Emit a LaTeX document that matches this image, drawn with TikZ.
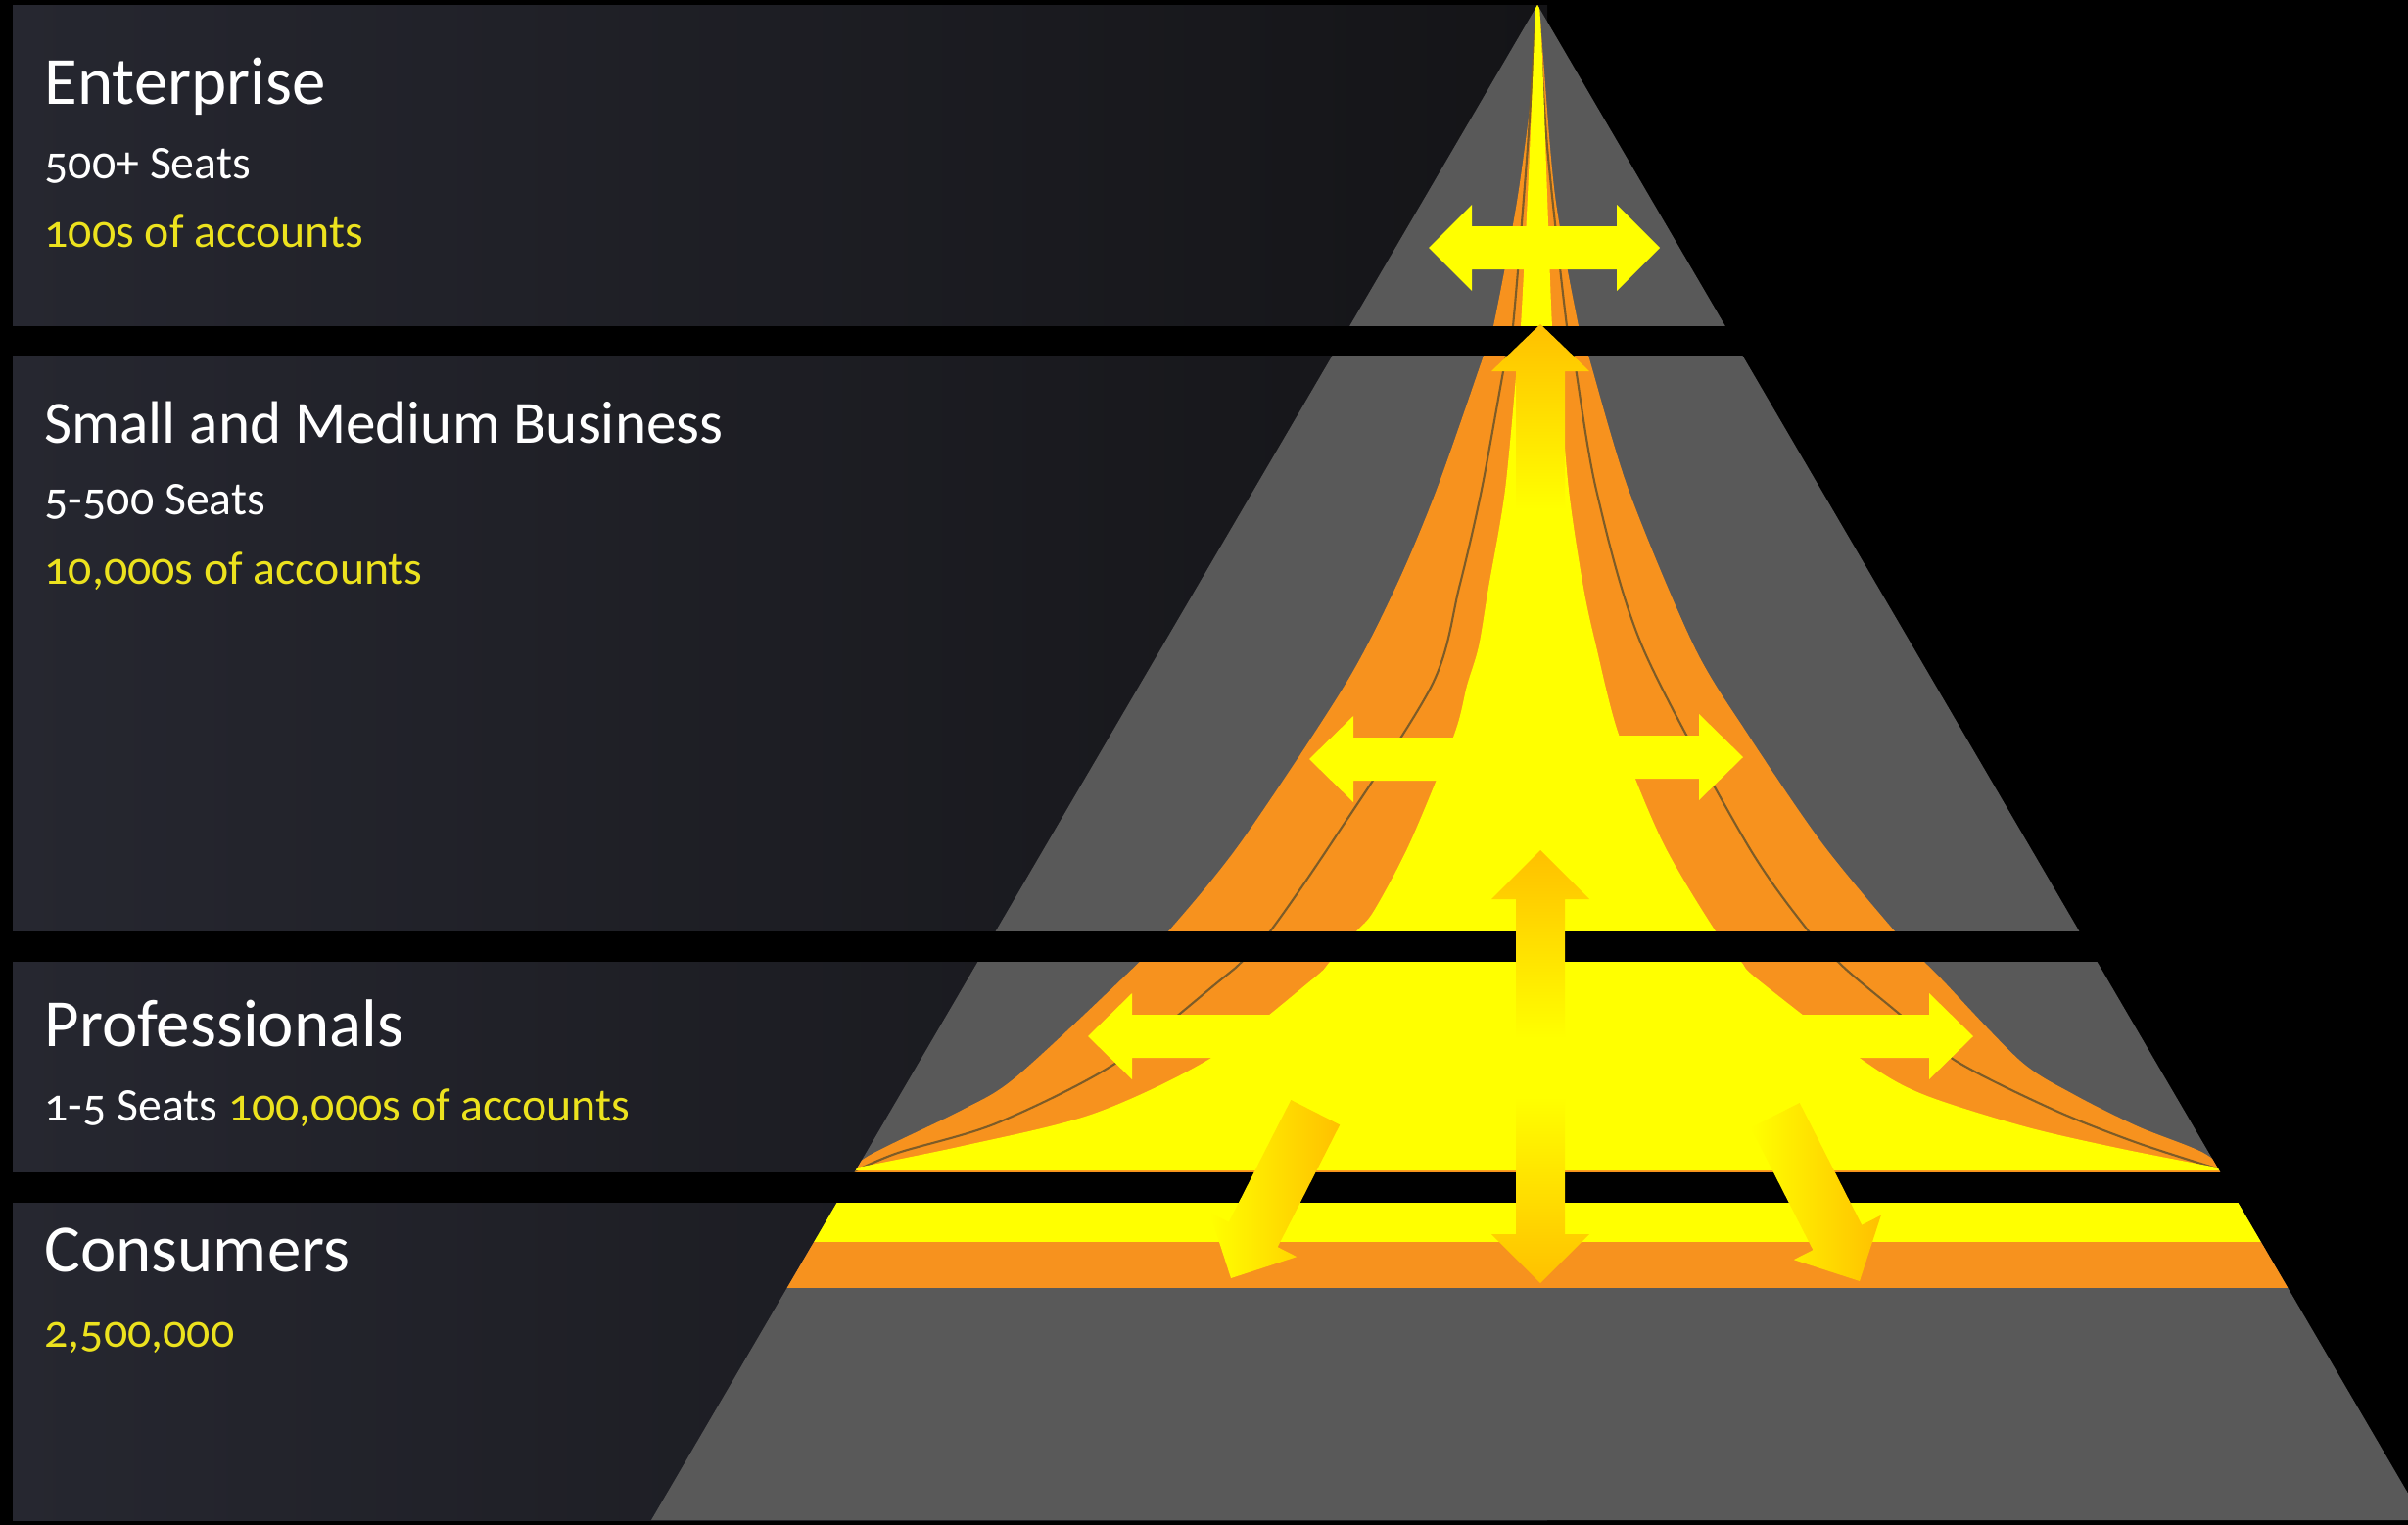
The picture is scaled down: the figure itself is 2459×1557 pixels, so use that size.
\documentclass[tikz,border=0pt]{standalone}
\usepackage{fontspec}
\setmainfont{Carlito}[Numbers=OldStyle]
\usetikzlibrary{calc}

\definecolor{panelL}{RGB}{38,39,48}
\definecolor{panelR}{RGB}{20,20,23}
\definecolor{pyrgray}{RGB}{89,89,89}
\definecolor{glowor}{RGB}{247,146,30}
\definecolor{glowye}{RGB}{255,255,0}
\definecolor{arrowgold}{RGB}{255,192,0}
\definecolor{textye}{RGB}{236,226,30}
\definecolor{seam}{RGB}{125,92,40}

% block arrow: [style]{tip}{direction}{length}{head length}{head half width}{shaft half width}
\newcommand{\blockarrow}[7][]{%
  \path[#1, shift={#2}, rotate=#3]
    (0,0) -- (-#5,#6) -- (-#5,#7) -- (-#4,#7) -- (-#4,-#7) -- (-#5,-#7) -- (-#5,-#6) -- cycle;
}

\begin{document}
\begin{tikzpicture}[x=0.1mm, y=-0.1mm,
  tiertitle/.style={anchor=base west, inner sep=0pt, text=white, font=\fontsize{19.6}{23}\selectfont},
  tierseats/.style={anchor=base west, inner sep=0pt, text=white, font=\fontsize{13.6}{16}\selectfont},
  tiercount/.style={tierseats, text=textye},
  panel/.style={left color=panelL, right color=panelR},
  gap/.style={fill=black},
  flat/.style={fill=glowye},
  golden/.style={shade, left color=glowye, right color=arrowgold}]

\useasboundingbox (0,0) rectangle (2459,1557);
\clip (0,0) rectangle (2459,1557);
\fill[black] (0,0) rectangle (2459,1557);

\coordinate (apex) at (1570,5);
\coordinate (baseL) at (665,1552);
\coordinate (baseR) at (2475,1552);

% tiers on the left
\shade[panel] (13,5) rectangle (1580,333);
\shade[panel] (13,363) rectangle (1580,951);
\shade[panel] (13,982) rectangle (1580,1197);
\shade[panel] (13,1228) rectangle (1580,1552);

\fill[pyrgray] (apex) -- (baseL) -- (baseR) -- cycle;

% glow inside the pyramid
\begin{scope}
\clip (apex) -- (baseL) -- (baseR) -- cycle;
\fill[glowor] plot[smooth] coordinates {(860,1205) (887,1180) (983,1133) (1037,1100) (1145,1000)
  (1193,951) (1267,860) (1373,700) (1425,600) (1467,500) (1515,363) (1525,333) (1550,200) (1568,60) (1570,5)}
  -- plot[smooth] coordinates {(1572,5) (1576,60) (1588,200) (1612,333) (1622,363) (1663,500) (1730,660)
  (1785,750) (1860,860) (1935,951) (1965,982) (1983,1000) (2063,1083) (2117,1117) (2183,1150) (2250,1177) (2285,1205)}
  -- cycle;
\draw[seam, line width=0.6pt] plot[smooth] coordinates {(1569,5) (1560,150) (1545,333) (1538,363) (1513,500)
  (1490,600) (1462,700) (1360,860) (1297,951) (1268,982) (1247,1000) (1137,1087) (1017,1147) (917,1177) (870,1197)};
\draw[seam, line width=0.6pt] plot[smooth] coordinates {(1571,5) (1580,150) (1600,333) (1607,363) (1630,500)
  (1677,660) (1783,860) (1847,951) (1877,982) (1897,1000) (1937,1033) (1997,1083) (2097,1133) (2183,1167) (2270,1195)};
\fill[glowye] plot[smooth] coordinates {(860,1195) (983,1170) (1117,1137) (1237,1080) (1340,1000) (1358,982)
  (1385,951) (1403,930) (1440,860) (1485,750) (1498,700) (1510,660) (1520,600) (1537,500) (1550,363) (1553,333)
  (1560,200) (1566,60) (1568,5)}
  -- plot[smooth] coordinates {(1572,5) (1575,60) (1580,200) (1585,333) (1590,363) (1602,500) (1617,600)
  (1630,660) (1653,750) (1698,860) (1752,951) (1778,982) (1795,1000) (1903,1083) (1963,1117) (2067,1150)
  (2167,1173) (2280,1195)}
  -- cycle;
% consumer stripes
\fill[glowye] (0,1228) rectangle (2459,1268);
\fill[glowor] (0,1268) rectangle (2459,1315);
\end{scope}

% black gaps between the tiers
\fill[gap] (0,333) rectangle (2459,363);
\fill[gap] (0,951) rectangle (2459,982);
\fill[gap] (0,1197) rectangle (2459,1228);

% arrows
\fill[glowye] (1459,253) -- (1503,209) -- (1503,231) -- (1651,231) -- (1651,209) -- (1695,253)
  -- (1651,297) -- (1651,275) -- (1503,275) -- (1503,297) -- cycle;
\shade[top color=arrowgold, bottom color=glowye] (1573,331) -- (1623,379) -- (1598,379) -- (1598,520)
  -- (1548,520) -- (1548,379) -- (1523,379) -- cycle;
\blockarrow[flat]{(1337,775)}{180}{170}{45}{44}{22}
\blockarrow[flat]{(1780,773)}{0}{150}{45}{44}{22}
\blockarrow[flat]{(1111,1058)}{180}{230}{45}{44}{22}
\blockarrow[flat]{(2015,1058)}{0}{210}{45}{44}{22}
\shade[top color=arrowgold, bottom color=glowye]
  (1573,868) -- (1623,918) -- (1598,918) -- (1598,1060) -- (1548,1060) -- (1548,918) -- (1523,918) -- cycle;
\shade[top color=glowye, bottom color=arrowgold]
  (1548,1120) -- (1598,1120) -- (1598,1260) -- (1623,1260) -- (1573,1310) -- (1523,1260) -- (1548,1260) -- cycle;
\blockarrow[golden]{(1257,1305)}{-117}{190}{50}{50}{28}
\blockarrow[golden]{(1899,1308)}{-63}{190}{50}{50}{28}

% labels
\node[tiertitle] (entTitle) at (45,106) {Enterprise};
\node[tierseats] (entSeats) at (45,182) {500+ Seats};
\node[tiercount] (entCount) at (45,252) {100s of accounts};
\node[tiertitle, font=\fontsize{17.4}{21}\selectfont] (smbTitle) at (45,452) {Small and Medium Business};
\node[tierseats] (smbSeats) at (45,525) {5-500 Seats};
\node[tiercount] (smbCount) at (45,596) {10,000s of accounts};
\node[tiertitle] (proTitle) at (45,1068) {Professionals};
\node[tierseats] (proSeats) at (45,1144) {1-5 Seats \textcolor{textye}{100,000s of accounts}};
\node[tiertitle] (conTitle) at (45,1298) {Consumers};
\node[tiercount] (conCount) at (45,1375) {2,500,000};
\end{tikzpicture}
\end{document}
